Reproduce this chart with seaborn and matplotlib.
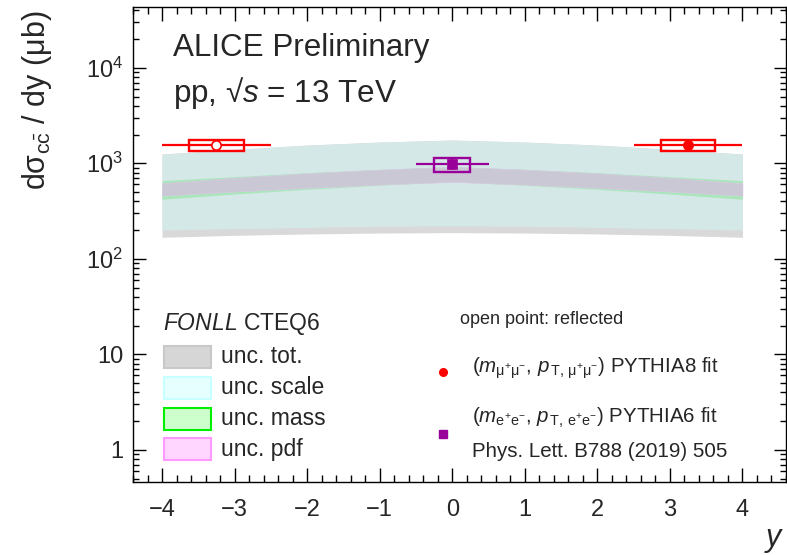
import numpy as np
import pandas as pd
import seaborn as sns
import matplotlib.pyplot as plt
from matplotlib.patches import Rectangle
from matplotlib.ticker import MultipleLocator, LogLocator, FuncFormatter, NullFormatter

# FONLL CTEQ6 bands (read at |y| = 0,1,2,3,4, symmetric in y)
abs_y = [0, 1, 2, 3, 4]
tot_hi = [1754, 1670, 1553, 1400, 1251]
tot_lo = [188, 186, 182, 176, 168]
scale_hi = [1750, 1665, 1548, 1395, 1246]
scale_lo = [222, 219, 213, 207, 200]
mass_hi = [925, 865, 798, 724, 658]
mass_lo = [645, 589, 535, 477, 420]
pdf_hi = [921, 858, 785, 705, 618]
pdf_lo = [638, 598, 553, 505, 458]

# measured points
mu_y = [-3.25, 3.25]
mu_val = [1554, 1554]
mu_stat = [60, 60]
mu_sys = [220, 220]
mu_open = [True, False]
ee_y = [0.0]
ee_val = [980]
ee_stat = [130]
ee_sys = [160]


def mirror(v):
    v = list(v)
    return np.array(v[::-1] + v[1:])


y_grid = np.concatenate([-np.array(abs_y[::-1]), np.array(abs_y[1:])])

sns.set_theme(style="ticks")
plt.rcParams['font.family'] = ['Liberation Sans', 'DejaVu Sans']
plt.rcParams['mathtext.fontset'] = 'custom'
plt.rcParams['mathtext.rm'] = 'Liberation Sans'
plt.rcParams['mathtext.it'] = 'Liberation Sans:italic'
plt.rcParams['mathtext.bf'] = 'Liberation Sans:bold'

fig = plt.figure(figsize=(7.87, 5.55), dpi=100)
ax = fig.add_axes([133/787, 73/555, 653/787, 474.7/555])

# bands
ax.fill_between(y_grid, mirror(tot_lo), mirror(tot_hi), color="#d9d9d9", lw=0, zorder=1)
ax.fill_between(y_grid, mirror(scale_lo), mirror(scale_hi), color="#d4e8e7", lw=0, zorder=2)
ax.fill_between(y_grid, mirror(mass_lo), mirror(mass_hi), color="#a9e6b9", lw=0, zorder=3)
ax.fill_between(y_grid, mirror(pdf_lo), mirror(pdf_hi), facecolor="#cbc8d5",
                edgecolor="#ddc9ea", lw=0.4, zorder=4)

red = "#ff0000"
purple = "#990099"

# systematic boxes
for yy, v, s in zip(mu_y, mu_val, mu_sys):
    ax.add_patch(Rectangle((yy - 0.375, v - s), 0.75, 2 * s, fill=False,
                           edgecolor=red, lw=1.7, zorder=5))
for yy, v, s in zip(ee_y, ee_val, ee_sys):
    ax.add_patch(Rectangle((yy - 0.25, v - s), 0.5, 2 * s, fill=False,
                           edgecolor=purple, lw=1.7, zorder=5))

# statistical errors + bin widths
ax.errorbar(mu_y, mu_val, yerr=mu_stat, xerr=0.75, fmt="none", ecolor=red,
            elinewidth=1.6, capsize=0, zorder=6)
ax.errorbar(ee_y, ee_val, yerr=ee_stat, xerr=0.5, fmt="none", ecolor=purple,
            elinewidth=1.6, capsize=0, zorder=6)

mu = pd.DataFrame({"y": mu_y, "val": mu_val, "open": mu_open})
ee = pd.DataFrame({"y": ee_y, "val": ee_val})
sns.scatterplot(data=mu[~mu["open"]], x="y", y="val", color=red, marker="o",
                s=45, edgecolor=red, linewidth=1.2, ax=ax, zorder=7)
sns.scatterplot(data=mu[mu["open"]], x="y", y="val", color="white", marker="o",
                s=45, edgecolor=red, linewidth=1.2, ax=ax, zorder=7)
sns.scatterplot(data=ee, x="y", y="val", color=purple, marker="s",
                s=45, edgecolor=purple, linewidth=0.5, ax=ax, zorder=7)

ax.set_yscale("log")
ax.set_xlim(-4.4, 4.6)
ax.set_ylim(0.46, 4.3e4)

ax.xaxis.set_major_locator(MultipleLocator(1))
ax.xaxis.set_minor_locator(MultipleLocator(0.2))
ax.yaxis.set_major_locator(LogLocator(base=10, numticks=20))
ax.yaxis.set_minor_locator(LogLocator(base=10, subs=np.arange(2, 10), numticks=20))
ax.yaxis.set_minor_formatter(NullFormatter())


def ylab(v, pos):
    if v < 0.9:
        return ""
    e = int(round(np.log10(v)))
    if e == 0:
        return "1"
    if e == 1:
        return "10"
    return r"$\mathregular{10^{%d}}$" % e


ax.yaxis.set_major_formatter(FuncFormatter(ylab))

ax.tick_params(which="both", direction="in", top=True, right=True, width=1.0,
               color="black", labelsize=17)
ax.tick_params(axis="x", which="major", length=10, pad=12)
ax.tick_params(axis="x", which="minor", length=5)
ax.tick_params(axis="y", which="major", length=9, pad=7)
ax.tick_params(axis="y", which="minor", length=4.5)
for sp in ax.spines.values():
    sp.set_linewidth(1.0)
    sp.set_color("black")

ax.set_xlabel("$y$", fontsize=22)
ax.xaxis.set_label_coords(0.998, -0.122)
ax.xaxis.label.set_ha("right")
ax.xaxis.label.set_va("center")
ax.set_ylabel(r"dσ$_{\mathrm{c\bar{c}}}$ / dy (μb)", fontsize=22)
ax.yaxis.set_label_coords(-0.147, 0.805)
ax.yaxis.label.set_va("center")

# header texts
ax.text(0.0617, 0.897, "ALICE Preliminary", transform=ax.transAxes,
        fontsize=22.6, va="baseline", ha="left")
ax.text(0.0617, 0.801, r"pp, √$s$ = 13 TeV", transform=ax.transAxes,
        fontsize=22.6, va="baseline", ha="left")


def fx(px):
    return (px - 133) / 653


def fy(py):
    return (482 - py) / 474.7


# FONLL legend
band_labels = ["unc. tot.", "unc. scale", "unc. mass", "unc. pdf"]
band_faces = ["#d6d6d6", "#e6ffff", "#ccffcc", "#ffd6ff"]
band_edges = ["#c8c8c8", "#c8ffff", "#00ee00", "#ff99ff"]
ax.text(fx(163.3), fy(324), r"$\it{FONLL}$ CTEQ6", transform=ax.transAxes,
        fontsize=16.5, va="center", ha="left")
for i, (lab, fc, ec) in enumerate(zip(band_labels, band_faces, band_edges)):
    top = 345.7 + 30.9 * i
    ax.add_patch(Rectangle((fx(163.5), fy(top + 22)), fx(211) - fx(163.5),
                           fy(top) - fy(top + 22), transform=ax.transAxes,
                           facecolor=fc, edgecolor=ec, lw=1.5, zorder=8))
    ax.text(fx(220.7), fy(top + 11), lab, transform=ax.transAxes,
            fontsize=16.5, va="center", ha="left")

# data legend
ax.text(fx(460), fy(319.3), "open point: reflected", transform=ax.transAxes,
        fontsize=13, va="center", ha="left")
ax.plot([fx(443.3)], [fy(371.7)], "o", color=red, ms=5.5, transform=ax.transAxes)
ax.plot([fx(443.3)], [fy(434.3)], "s", color=purple, ms=5.5, transform=ax.transAxes)
ax.text(fx(471.7), fy(372.7),
        r"($m_{\mathrm{\mu^{+}\mu^{-}}}$, $p_{\mathrm{\,T,\,\mu^{+}\mu^{-}}}$) PYTHIA8 fit",
        transform=ax.transAxes, fontsize=14.8, va="baseline", ha="left")
ax.text(fx(471.7), fy(422.7),
        r"($m_{\mathrm{e^{+}e^{-}}}$, $p_{\mathrm{\,T,\,e^{+}e^{-}}}$) PYTHIA6 fit",
        transform=ax.transAxes, fontsize=14.8, va="baseline", ha="left")
ax.text(fx(471.7), fy(456.7), "Phys. Lett. B788 (2019) 505",
        transform=ax.transAxes, fontsize=14.8, va="baseline", ha="left")

fig.savefig("out.png", dpi=100)
